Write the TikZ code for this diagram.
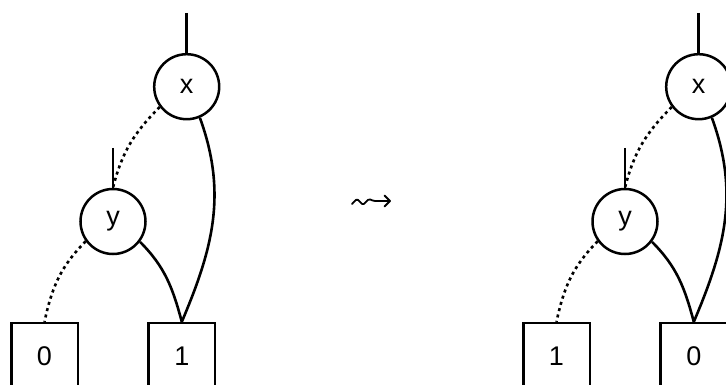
\documentclass[tikz,border=0pt]{standalone}
\usepackage{fontspec}
\setmainfont{Liberation Sans}
\begin{document}
\begin{tikzpicture}[x=1pt,y=-1pt,
  every node/.style={font=\fontsize{27}{31}\selectfont},
  var/.style={draw,circle,line width=2.5pt,minimum size=65pt,inner sep=0pt},
  term/.style={draw,rectangle,line width=2.5pt,minimum width=66.5pt,minimum height=66.5pt,inner sep=0pt},
  hi/.style={line width=2.6pt},
  lo/.style={line width=2.6pt,dash pattern=on 3pt off 3.5pt},
  squig/.style={line width=1.8pt,line join=round,line cap=round,rounded corners=1.5pt}]
\useasboundingbox (0,0) rectangle (726,385);
\foreach \o/\a/\b/\s in {0/0/1/L,512/1/0/R}{
  \begin{scope}[xshift=\o pt]
  \node[var] (x\s) at (186.7,86.7) {x};
  \node[var] (y\s) at (113,221.5) {y};
  \node[term] (a\s) at (44.5,356.3) {\a};
  \node[term] (b\s) at (181.8,356.3) {\b};
  \coordinate (xt\s) at (186.7,13);
  \coordinate (yt\s) at (113,148);
  \draw[hi] (xt\s) -- (x\s.north);
  \draw[hi] (yt\s) -- (y\s.north);
  \draw[lo] (x\s.217) to[out=225,in=76] (y\s.north);
  \draw[hi] (x\s.-67) to[out=-70,in=67] (b\s.north);
  \draw[lo] (y\s.216) to[out=225,in=78] (a\s.north);
  \draw[hi] (y\s.-37) to[out=-45,in=105] (b\s.north);
  \end{scope}
}
\coordinate (s0) at (352,204);
\coordinate (tip) at (390,201);
\draw[squig] (s0) -- (357,198.8) -- (363,205) -- (369,198.8) -- (373.5,201) -- (tip);
\draw[squig,rounded corners=0pt] (384.5,195.5) -- (tip) -- (384.5,206.5);
\end{tikzpicture}
\end{document}
